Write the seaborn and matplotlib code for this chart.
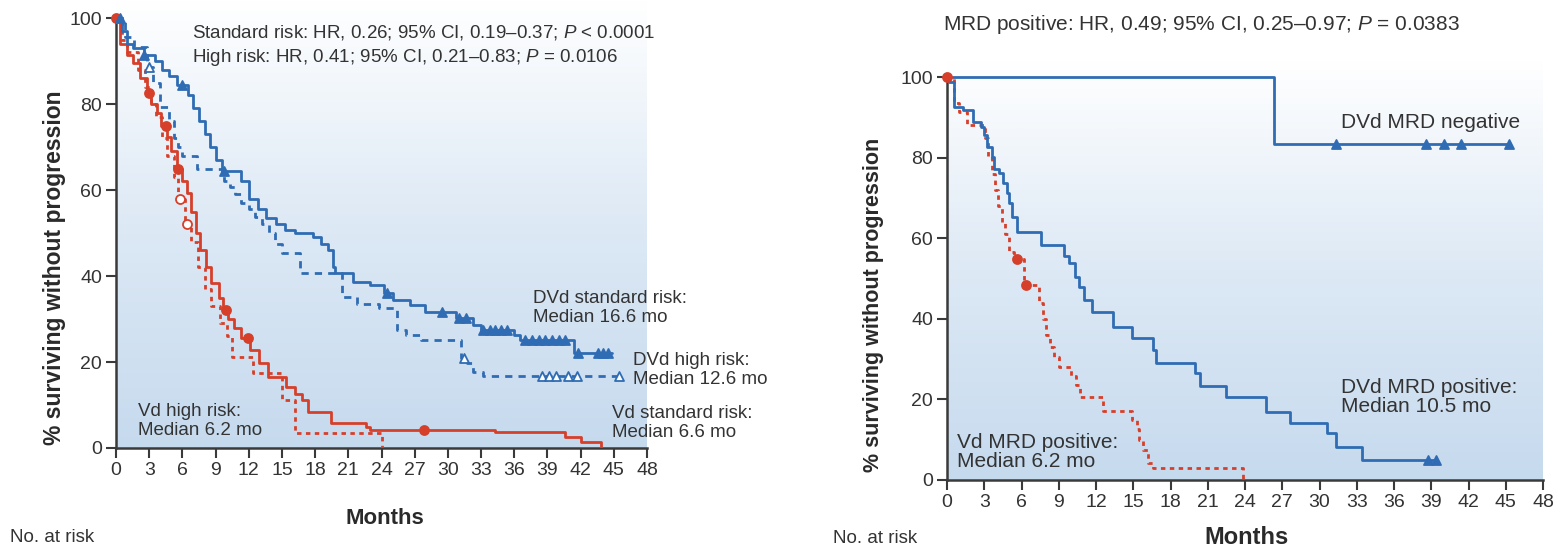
import numpy as np
import pandas as pd
import matplotlib
matplotlib.use("Agg")
import matplotlib.pyplot as plt
from matplotlib import font_manager
from matplotlib.colors import LinearSegmentedColormap
import seaborn as sns

# ---------------- data ----------------
month_ticks = list(range(0, 49, 3))
pct_ticks = [0, 20, 40, 60, 80, 100]

# Left panel: by cytogenetic risk
dvd_std_t = [0, 0.5, 1.0, 1.5, 2.5, 3.5, 4.2, 4.8, 5.5, 6.5, 7.0, 7.5, 8.0, 8.5, 9.0, 9.6,
             11.3, 12.0, 12.8, 13.6, 14.5, 15.3, 16.2, 17.8, 18.5, 19.2, 19.6, 19.8, 21.4,
             23.0, 24.2, 25.0, 26.6, 27.9, 30.7, 32.3, 33.0, 36.0, 36.5, 41.4, 44.8]
dvd_std_s = [100, 97, 94, 93, 91.5, 90, 88, 86.5, 84.5, 82, 79, 76, 73, 70, 67, 64.5,
             62, 58, 55.5, 53.5, 52, 50.8, 50, 49, 47.5, 46, 42, 40.6, 38.7,
             37.9, 36, 34.4, 33.3, 31.7, 30.2, 28.6, 27.4, 26.3, 25.1, 22.0, 22.0]
dvd_std_cens = [0.4, 2.5, 6.0, 9.8, 24.5, 29.5, 31.0, 31.6, 33.2, 33.8, 34.3, 34.8, 35.3,
                37.0, 37.6, 38.2, 38.8, 39.4, 40.0, 40.6, 41.8, 43.6, 44.0, 44.5]

dvd_high_t = [0, 0.8, 1.6, 2.8, 3.3, 4.0, 4.8, 5.2, 5.6, 6.0, 7.3, 9.8, 10.3, 10.8, 11.3,
              12.0, 12.6, 13.2, 13.8, 14.4, 15.0, 16.6, 20.4, 21.8, 23.8, 25.4, 26.2, 27.6,
              31.2, 31.7, 32.3, 33.2, 45.5]
dvd_high_s = [100, 95.7, 93.3, 88.7, 84.8, 79.4, 76, 72, 70, 68, 65, 62, 60.8, 59, 57,
              55.5, 53.8, 52, 50, 47.5, 45.3, 40.6, 35.2, 33.6, 32.5, 27.4, 26.3, 25.1,
              21.0, 19.7, 17.7, 16.8, 16.8]
dvd_high_cens = [3.0, 31.5, 38.5, 39.1, 39.8, 40.9, 41.7, 45.5]

vd_std_t = [0, 0.4, 1.0, 1.5, 2.2, 2.8, 3.2, 3.7, 4.1, 4.6, 5.0, 5.5, 6.0, 6.4, 6.8, 7.2,
            7.6, 8.1, 8.6, 9.3, 9.7, 10.1, 10.7, 11.3, 12.1, 12.9, 13.7, 15.4, 16.2, 16.8,
            17.4, 19.4, 22.6, 23.0, 34.3, 40.6, 42.0, 43.8]
vd_std_s = [100, 94, 91.5, 89.5, 86, 82.5, 80, 78, 75, 72.4, 69, 65, 62, 59.3, 55, 50,
            46, 42, 38.4, 35, 32, 30, 28, 25.5, 22.8, 19.8, 16.5, 14.2, 12.5, 11.2,
            8.4, 5.8, 5.0, 4.3, 3.8, 2.5, 1.3, 0]
vd_std_cens = [0, 3.0, 4.5, 5.6, 9.9, 11.9, 27.8]

vd_high_t = [0, 0.5, 1.0, 2.0, 2.6, 3.2, 3.6, 4.2, 4.6, 5.2, 5.6, 6.2, 6.8, 7.4, 8.0, 8.6,
             9.4, 10.0, 10.5, 12.4, 15.0, 16.2, 24.0]
vd_high_s = [100, 95, 92, 88, 84, 80, 77, 72, 68, 63, 58, 52, 48, 42, 37, 33,
             29, 26, 21.2, 17.4, 11.2, 3.4, 0]
vd_high_cens = [5.8, 6.4]

# Right panel: by MRD status
dvd_neg_t = [0, 26.3, 45.3]
dvd_neg_s = [100, 83.3, 83.3]
dvd_neg_cens = [31.3, 38.6, 40.0, 41.4, 45.3]

dvd_pos_t = [0, 0.15, 0.6, 1.3, 2.1, 2.7, 3.0, 3.2, 3.6, 3.8, 4.2, 4.5, 4.8, 5.0, 5.2,
             5.6, 7.6, 9.4, 9.8, 10.3, 10.6, 11.0, 11.7, 13.4, 14.9, 16.6, 16.8, 20.0,
             20.4, 22.5, 25.7, 27.6, 30.6, 31.3, 33.4, 39.4]
dvd_pos_s = [100, 98.8, 92.6, 91.8, 88.9, 87.7, 85.6, 82.7, 80.2, 77.3, 76.2, 73.7, 71.2,
             68.7, 65.3, 61.6, 58.3, 55.5, 53.8, 50.5, 48, 44.7, 41.8, 38, 35.2, 32.3,
             29, 26.5, 23.3, 20.6, 16.9, 14.1, 11.7, 8.2, 5.0, 5.0]
dvd_pos_cens = [38.7, 39.4]

vd_pos_t = [0, 0.6, 1.0, 1.6, 3.1, 3.3, 3.6, 3.9, 4.1, 4.4, 4.7, 5.0, 5.4, 6.2, 7.4,
            7.7, 8.0, 8.3, 8.6, 9.0, 10.0, 10.4, 10.7, 12.6, 14.9, 15.3, 15.5, 15.8,
            16.2, 16.6, 23.8]
vd_pos_s = [100, 93.5, 91.4, 88, 85, 80, 76, 72, 68, 64, 61, 56.5, 54.8, 48.4, 44,
            40, 36, 33, 30.6, 28.1, 25.9, 23.6, 20.7, 17.2, 14.9, 12.6, 10, 7.4,
            4.2, 2.9, 0]
vd_pos_cens = [0, 5.6, 6.4]

# ---------------- style ----------------
sns.set_theme(style="ticks")
names = {f.name for f in font_manager.fontManager.ttflist}
base_font = "Liberation Sans" if "Liberation Sans" in names else "DejaVu Sans"
plt.rcParams["font.family"] = [base_font, "DejaVu Sans"]
plt.rcParams["mathtext.fontset"] = "custom"
plt.rcParams["mathtext.rm"] = base_font
plt.rcParams["mathtext.it"] = base_font + ":italic"

BLUE = "#2f6cb3"
RED = "#d63f2a"
DARK = "#3a3a3a"
TXT = "#333333"

W, H = 1557, 549
fig = plt.figure(figsize=(W / 100, H / 100), dpi=100)


def px(x, y):
    return x / W, 1 - y / H


def rect(l, t, r, b):
    return [l / W, 1 - b / H, (r - l) / W, (b - t) / H]


grad_cmap = LinearSegmentedColormap.from_list("bg", ["#c6daee", "#dde9f5", "#ffffff"])


def step_at(ts, ss, t):
    idx = np.searchsorted(np.asarray(ts), t, side="right") - 1
    return np.asarray(ss)[np.clip(idx, 0, len(ss) - 1)]


def setup(ax, ytop):
    grad = np.linspace(0, 1, 256).reshape(-1, 1)
    ax.imshow(grad, extent=[0, 48, 0, ytop], origin="lower", aspect="auto",
              cmap=grad_cmap, zorder=0, interpolation="bilinear")
    ax.set_xlim(0, 48)
    ax.set_ylim(0, ytop)
    ax.set_facecolor("white")
    sns.despine(ax=ax)
    for sp in ("left", "bottom"):
        ax.spines[sp].set_color(DARK)
        ax.spines[sp].set_linewidth(1.8)
    ax.spines["left"].set_bounds(0, 100)
    ax.set_xticks(month_ticks)
    ax.set_yticks(pct_ticks)
    ax.tick_params(direction="out", length=7, width=1.5, color=DARK,
                   labelsize=14, labelcolor=TXT, pad=3)


def curve(ax, t, s, color, ls):
    df = pd.DataFrame({"t": t, "s": s})
    sns.lineplot(data=df, x="t", y="s", ax=ax, color=color, linewidth=2.0,
                 drawstyle="steps-post", estimator=None, sort=False,
                 linestyle=ls, zorder=3)


def cens(ax, t, s, ct, color, marker, filled):
    df = pd.DataFrame({"t": ct, "s": step_at(t, s, ct)})
    sns.scatterplot(data=df, x="t", y="s", ax=ax, marker=marker, s=42,
                    color=color, facecolor=color if filled else "white",
                    edgecolor=color, linewidth=1.3, zorder=4, clip_on=False)


# ---------------- left panel ----------------
axL = fig.add_axes(rect(116, 0, 647, 448))
setup(axL, 104.2)
curve(axL, vd_high_t, vd_high_s, RED, (0, (1.6, 1.6)))
curve(axL, vd_std_t, vd_std_s, RED, "-")
curve(axL, dvd_high_t, dvd_high_s, BLUE, (0, (2.6, 2.2)))
curve(axL, dvd_std_t, dvd_std_s, BLUE, "-")
cens(axL, vd_high_t, vd_high_s, vd_high_cens, RED, "o", False)
cens(axL, vd_std_t, vd_std_s, vd_std_cens, RED, "o", True)
cens(axL, dvd_high_t, dvd_high_s, dvd_high_cens, BLUE, "^", False)
cens(axL, dvd_std_t, dvd_std_s, dvd_std_cens, BLUE, "^", True)
axL.set_xlabel("")
axL.set_ylabel("")

# ---------------- right panel ----------------
axR = fig.add_axes(rect(947, 61, 1543, 480))
setup(axR, 104)
curve(axR, vd_pos_t, vd_pos_s, RED, (0, (1.6, 1.6)))
curve(axR, dvd_pos_t, dvd_pos_s, BLUE, "-")
curve(axR, dvd_neg_t, dvd_neg_s, BLUE, "-")
cens(axR, vd_pos_t, vd_pos_s, vd_pos_cens, RED, "o", True)
cens(axR, dvd_pos_t, dvd_pos_s, dvd_pos_cens, BLUE, "^", True)
cens(axR, dvd_neg_t, dvd_neg_s, dvd_neg_cens, BLUE, "^", True)
axR.set_xlabel("")
axR.set_ylabel("")

# ---------------- texts ----------------
def ftext(x, y, s, **kw):
    kw.setdefault("fontsize", 13.5)
    kw.setdefault("color", TXT)
    kw.setdefault("ha", "left")
    kw.setdefault("va", "center")
    fig.text(*px(x, y), s, **kw)

ftext(192, 32, "Standard risk: HR, 0.26; 95% CI, 0.19–0.37; $P$ < 0.0001")
ftext(192, 58, "High risk: HR, 0.41; 95% CI, 0.21–0.83; $P$ = 0.0106")
ftext(533, 308, "DVd standard risk:\nMedian 16.6 mo", linespacing=1.15)
ftext(633, 370, "DVd high risk:\nMedian 12.6 mo", linespacing=1.15)
ftext(612, 423, "Vd standard risk:\nMedian 6.6 mo", linespacing=1.15)
ftext(138, 421, "Vd high risk:\nMedian 6.2 mo", linespacing=1.15)

rf = 15
ftext(943, 25, "MRD positive: HR, 0.49; 95% CI, 0.25–0.97; $P$ = 0.0383", fontsize=rf)
ftext(1341, 123, "DVd MRD negative", fontsize=rf)
ftext(1341, 397, "DVd MRD positive:\nMedian 10.5 mo", linespacing=1.0, fontsize=rf)
ftext(957, 452, "Vd MRD positive:\nMedian 6.2 mo", linespacing=1.0, fontsize=rf)

ftext(55, 268, "% surviving without progression", fontsize=16.5, fontweight="bold",
      rotation=90, ha="center", color="#2a2a2a")
ftext(874, 305, "% surviving without progression", fontsize=15.5, fontweight="bold",
      rotation=90, ha="center", color="#2a2a2a")
ftext(385, 518, "Months", fontsize=16, fontweight="bold", ha="center", color="#2a2a2a")
ftext(1247, 537, "Months", fontsize=17, fontweight="bold", ha="center", color="#2a2a2a")

ftext(10, 537, "No. at risk")
ftext(833, 547, "No. at risk", va="bottom")

fig.savefig("out.png", dpi=100, facecolor="white")
